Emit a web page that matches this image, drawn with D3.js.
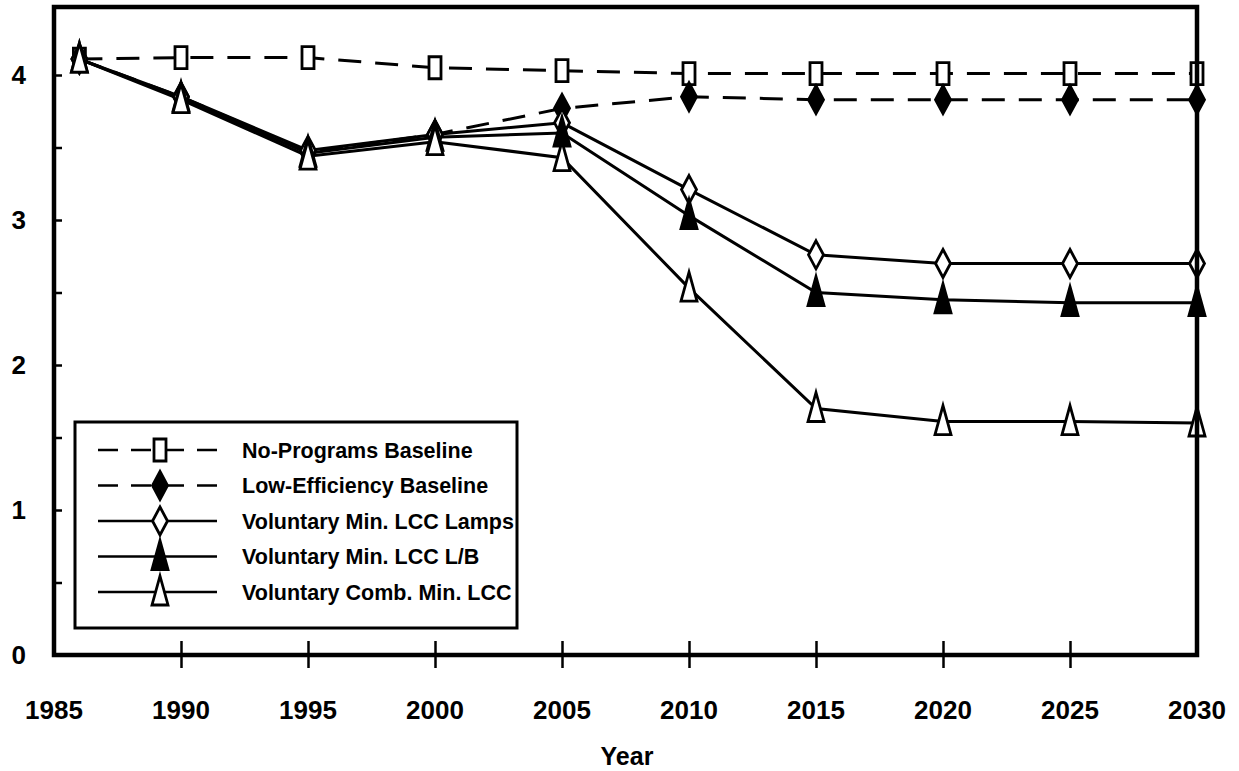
<!DOCTYPE html>
<html>
<head>
<meta charset="utf-8">
<script src="https://cdn.jsdelivr.net/npm/d3@7"></script>
<style>
  html, body { margin: 0; padding: 0; background: #fff; }
  svg { display: block; }
  text { font-family: "Liberation Sans", Arial, Helvetica, sans-serif; font-weight: bold; fill: #000; }
</style>
</head>
<body>
<svg id="chart" width="1239" height="771"></svg>
<script>
// Years on the horizontal axis
const years = [1986, 1990, 1995, 2000, 2005, 2010, 2015, 2020, 2025, 2030];
const xTickLabels = [1985, 1990, 1995, 2000, 2005, 2010, 2015, 2020, 2025, 2030];
const yTickLabels = [0, 1, 2, 3, 4];

// Series values
const noPrograms    = [4.11, 4.12, 4.12, 4.05, 4.03, 4.01, 4.01, 4.01, 4.01, 4.01];
const lowEfficiency = [4.11, 3.85, 3.47, 3.59, 3.77, 3.85, 3.83, 3.83, 3.83, 3.83];
const lccLamps      = [4.11, 3.85, 3.48, 3.59, 3.67, 3.21, 2.76, 2.70, 2.70, 2.70];
const lccLB         = [4.11, 3.84, 3.46, 3.57, 3.60, 3.03, 2.50, 2.45, 2.43, 2.43];
const combLCC       = [4.11, 3.83, 3.44, 3.54, 3.43, 2.53, 1.70, 1.61, 1.61, 1.60];

const seriesNames = [
  "No-Programs Baseline",
  "Low-Efficiency Baseline",
  "Voluntary Min. LCC Lamps",
  "Voluntary Min. LCC L/B",
  "Voluntary Comb. Min. LCC"
];

const series = [
  { name: seriesNames[0], values: noPrograms,    dashed: true,  marker: "rect",     fill: "#fff" },
  { name: seriesNames[1], values: lowEfficiency, dashed: true,  marker: "diamond",  fill: "#000" },
  { name: seriesNames[2], values: lccLamps,      dashed: false, marker: "diamond",  fill: "#fff" },
  { name: seriesNames[3], values: lccLB,         dashed: false, marker: "triangle", fill: "#000" },
  { name: seriesNames[4], values: combLCC,       dashed: false, marker: "triangle", fill: "#fff" }
];

const svg = d3.select("#chart");

const plotLeft = 54, plotRight = 1197, plotBottom = 655, plotTop = 7;

const x = d3.scaleLinear().domain([1985, 2030]).range([plotLeft, plotRight]);
const y = d3.scaleLinear().domain([0, 4]).range([plotBottom, 75]);

// Tall, narrow marker outlines centred on (0,0)
function markerPath(kind) {
  const p = d3.path();
  if (kind === "rect") {
    p.rect(-6, -11, 12, 22);
  } else if (kind === "diamond") {
    p.moveTo(0, -14); p.lineTo(7.5, 0); p.lineTo(0, 14); p.lineTo(-7.5, 0); p.closePath();
  } else {
    p.moveTo(0, -16); p.lineTo(8, 13); p.lineTo(-8, 13); p.closePath();
  }
  return p.toString();
}

// Series lines
const line = d3.line()
  .x((d, i) => x(years[i]))
  .y(d => y(d));

const plot = svg.append("g");

series.forEach(s => {
  plot.append("path")
    .datum(s.values)
    .attr("d", line)
    .attr("fill", "none")
    .attr("stroke", "#000")
    .attr("stroke-width", 3)
    .attr("stroke-dasharray", s.dashed ? "23,14" : null);
});

// Markers
series.forEach(s => {
  plot.selectAll(null)
    .data(s.values)
    .join("path")
    .attr("d", markerPath(s.marker))
    .attr("transform", (d, i) => `translate(${x(years[i])},${y(d)})`)
    .attr("fill", s.fill)
    .attr("stroke", "#000")
    .attr("stroke-width", 2.8)
    .attr("stroke-linejoin", "miter");
});

// Plot frame
svg.append("rect")
  .attr("x", plotLeft).attr("y", plotTop)
  .attr("width", plotRight - plotLeft).attr("height", plotBottom - plotTop)
  .attr("fill", "none")
  .attr("stroke", "#000")
  .attr("stroke-width", 4.5);

// Y axis: inward ticks every 0.5, labels on whole numbers
const yAxis = d3.axisRight(y)
  .tickValues(d3.range(0, 4.01, 0.5))
  .tickSize(8)
  .tickFormat("");
const yg = svg.append("g").attr("transform", `translate(${plotLeft},0)`).call(yAxis);
yg.select(".domain").remove();
yg.selectAll(".tick line").attr("stroke", "#000").attr("stroke-width", 2.5);

svg.append("g").selectAll("text")
  .data(yTickLabels)
  .join("text")
  .attr("x", 26)
  .attr("y", d => y(d))
  .attr("dy", "0.36em")
  .attr("text-anchor", "end")
  .attr("font-size", 26)
  .text(d => d);

// X axis: crossing ticks on inner years, labels for every five years
const xAxis = d3.axisBottom(x)
  .tickValues(xTickLabels.slice(1, -1))
  .tickSize(13)
  .tickFormat("");
const xg = svg.append("g").attr("transform", `translate(0,${plotBottom})`).call(xAxis);
xg.select(".domain").remove();
xg.selectAll(".tick line")
  .attr("y1", -14).attr("y2", 13)
  .attr("stroke", "#000").attr("stroke-width", 2.5);

svg.append("g").selectAll("text")
  .data(xTickLabels)
  .join("text")
  .attr("x", d => x(d))
  .attr("y", 719)
  .attr("text-anchor", "middle")
  .attr("font-size", 26)
  .text(d => d);

svg.append("text")
  .attr("x", 627)
  .attr("y", 765)
  .attr("text-anchor", "middle")
  .attr("font-size", 25)
  .text("Year");

// Legend
const legend = svg.append("g");
legend.append("rect")
  .attr("x", 75).attr("y", 422)
  .attr("width", 442).attr("height", 206)
  .attr("fill", "#fff")
  .attr("stroke", "#000")
  .attr("stroke-width", 3);

const rowY = d3.scalePoint().domain(seriesNames).range([450, 592]);

series.forEach(s => {
  const ry = rowY(s.name);
  legend.append("line")
    .attr("x1", 98).attr("x2", 217)
    .attr("y1", ry).attr("y2", ry)
    .attr("stroke", "#000")
    .attr("stroke-width", 2.6)
    .attr("stroke-dasharray", s.dashed ? "20,13" : null);
  legend.append("path")
    .attr("d", markerPath(s.marker))
    .attr("transform", `translate(160,${ry})`)
    .attr("fill", s.fill)
    .attr("stroke", "#000")
    .attr("stroke-width", 2.8);
  legend.append("text")
    .attr("x", 242)
    .attr("y", ry)
    .attr("dy", "0.36em")
    .attr("font-size", 21.5)
    .text(s.name);
});
</script>
</body>
</html>
